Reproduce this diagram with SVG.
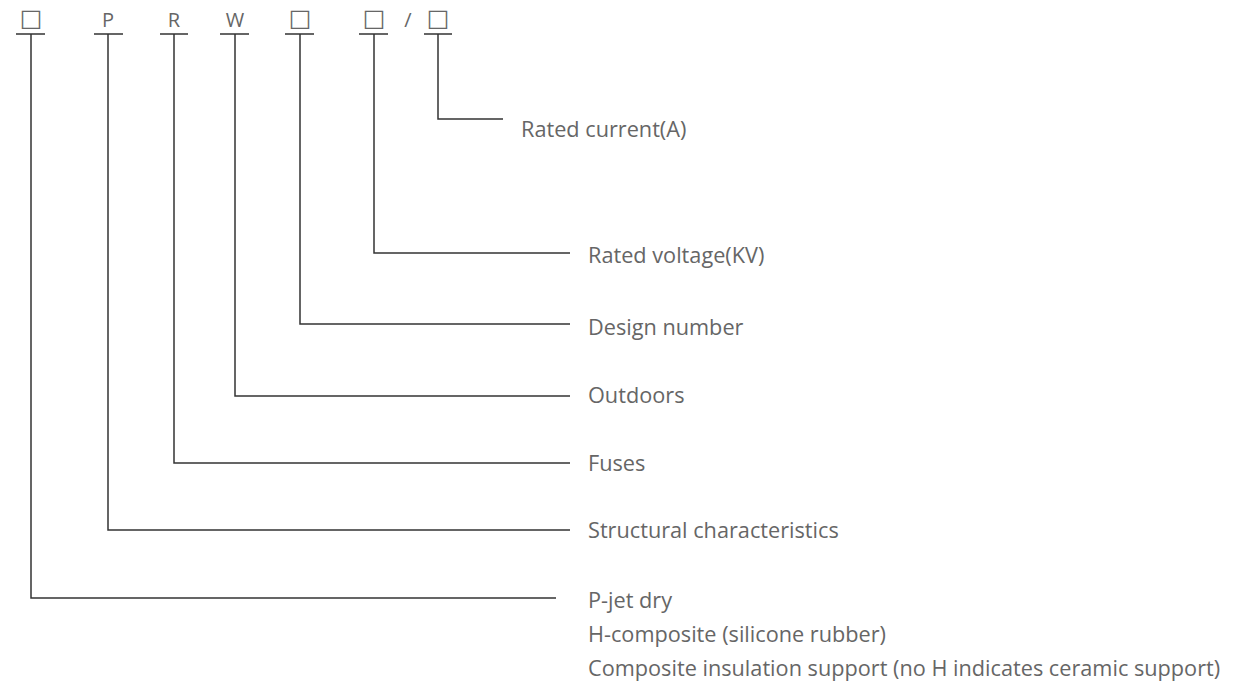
<svg xmlns="http://www.w3.org/2000/svg" width="1234" height="689" viewBox="0 0 1234 689">
<style>
.sym{font-family:"Open Sans","DejaVu Sans",sans-serif;font-size:20px;fill:#666;text-anchor:middle}
.box{font-family:"DejaVu Sans",sans-serif;font-size:24px;fill:#666;text-anchor:middle}
.lbl{font-family:"Open Sans","Noto Sans",sans-serif;font-size:21.7px;fill:#666}
.ln{fill:none;stroke:#333;stroke-width:1.5}
</style>
<rect width="1234" height="689" fill="#fff"/>
<g id="code">
<text class="box" x="31" y="26">□</text>
<text class="sym" x="108" y="27">P</text>
<text class="sym" x="174" y="27">R</text>
<text class="sym" x="235" y="27">W</text>
<text class="box" x="300" y="26">□</text>
<text class="box" x="374" y="26">□</text>
<text class="sym" x="408" y="27">/</text>
<text class="box" x="438" y="26">□</text>
</g>
<g id="connectors">
<path class="ln" d="M16 34H45M94 34H123M160 34H188M220 34H249M285 34H314M359 34H388M424 34H452"/>
<path class="ln" d="M438 34V119H503"/>
<path class="ln" d="M374 34V253H570"/>
<path class="ln" d="M300 34V324H570"/>
<path class="ln" d="M235 34V396H570"/>
<path class="ln" d="M174 34V463H570"/>
<path class="ln" d="M108 34V530H570"/>
<path class="ln" d="M31 34V598H556"/>
</g>
<g id="labels">
<text class="lbl" x="521" y="137">Rated current(A)</text>
<text class="lbl" x="588" y="263">Rated voltage(KV)</text>
<text class="lbl" x="588" y="335">Design number</text>
<text class="lbl" x="588" y="403">Outdoors</text>
<text class="lbl" x="588" y="471">Fuses</text>
<text class="lbl" x="588" y="538">Structural characteristics</text>
<text class="lbl" x="588" y="608">P-jet dry</text>
<text class="lbl" x="588" y="642">H-composite (silicone rubber)</text>
<text class="lbl" x="588" y="676">Composite insulation support (no H indicates ceramic support)</text>
</g>
</svg>
